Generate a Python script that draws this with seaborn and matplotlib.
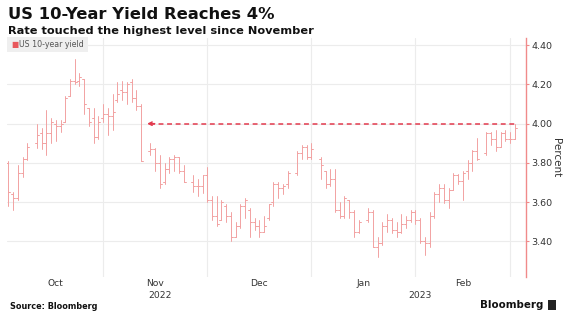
import numpy as np
import pandas as pd
import matplotlib
matplotlib.use("Agg")
import matplotlib.pyplot as plt
import seaborn as sns

# Daily US 10-year Treasury yield, open/high/low/close (percent)
dates = [
    "2022-10-03", "2022-10-04", "2022-10-05", "2022-10-06", "2022-10-07",
    "2022-10-11", "2022-10-12", "2022-10-13", "2022-10-14", "2022-10-17",
    "2022-10-18", "2022-10-19", "2022-10-20", "2022-10-21", "2022-10-24",
    "2022-10-25", "2022-10-26", "2022-10-27", "2022-10-28", "2022-10-31",
    "2022-11-01", "2022-11-02", "2022-11-03", "2022-11-04", "2022-11-07",
    "2022-11-08", "2022-11-09", "2022-11-10", "2022-11-14", "2022-11-15",
    "2022-11-16", "2022-11-17", "2022-11-18", "2022-11-21", "2022-11-22",
    "2022-11-23", "2022-11-25", "2022-11-28", "2022-11-29", "2022-11-30",
    "2022-12-01", "2022-12-02", "2022-12-05", "2022-12-06", "2022-12-07",
    "2022-12-08", "2022-12-09", "2022-12-12", "2022-12-13", "2022-12-14",
    "2022-12-15", "2022-12-16", "2022-12-19", "2022-12-20", "2022-12-21",
    "2022-12-22", "2022-12-23", "2022-12-27", "2022-12-28", "2022-12-29",
    "2022-12-30", "2023-01-03", "2023-01-04", "2023-01-05", "2023-01-06",
    "2023-01-09", "2023-01-10", "2023-01-11", "2023-01-12", "2023-01-13",
    "2023-01-17", "2023-01-18", "2023-01-19", "2023-01-20", "2023-01-23",
    "2023-01-24", "2023-01-25", "2023-01-26", "2023-01-27", "2023-01-30",
    "2023-01-31", "2023-02-01", "2023-02-02", "2023-02-03", "2023-02-06",
    "2023-02-07", "2023-02-08", "2023-02-09", "2023-02-10", "2023-02-13",
    "2023-02-14", "2023-02-15", "2023-02-16", "2023-02-17", "2023-02-21",
    "2023-02-22", "2023-02-23", "2023-02-24", "2023-02-27", "2023-02-28",
    "2023-03-01",
]
open_ = [
    3.80, 3.64, 3.62, 3.75, 3.82, 3.90, 3.95, 3.90, 3.95, 4.00,
    3.99, 4.01, 4.14, 4.22, 4.22, 4.23, 4.08, 4.03, 3.93, 4.03,
    4.05, 4.04, 4.12, 4.17, 4.16, 4.21, 4.13, 4.09, 3.86, 3.87,
    3.80, 3.70, 3.77, 3.82, 3.83, 3.76, 3.70, 3.68, 3.68, 3.74,
    3.61, 3.53, 3.51, 3.58, 3.53, 3.42, 3.48, 3.58, 3.56, 3.50,
    3.48, 3.45, 3.52, 3.60, 3.69, 3.67, 3.69, 3.75, 3.85, 3.88,
    3.83, 3.82, 3.76, 3.69, 3.72, 3.56, 3.53, 3.61, 3.55, 3.45,
    3.51, 3.55, 3.37, 3.39, 3.48, 3.51, 3.46, 3.45, 3.49, 3.51,
    3.55, 3.51, 3.40, 3.39, 3.53, 3.64, 3.67, 3.61, 3.66, 3.74,
    3.71, 3.76, 3.80, 3.86, 3.85, 3.95, 3.92, 3.88, 3.95, 3.92,
    3.92,
]
high = [
    3.81, 3.65, 3.79, 3.83, 3.90, 4.00, 3.98, 4.07, 4.03, 4.02,
    4.02, 4.14, 4.23, 4.33, 4.26, 4.23, 4.08, 4.08, 4.04, 4.10,
    4.08, 4.15, 4.21, 4.22, 4.21, 4.23, 4.17, 4.10, 3.90, 3.875,
    3.84, 3.80, 3.83, 3.84, 3.83, 3.79, 3.74, 3.72, 3.74, 3.78,
    3.63, 3.63, 3.61, 3.59, 3.55, 3.50, 3.59, 3.62, 3.57, 3.52,
    3.51, 3.53, 3.59, 3.70, 3.70, 3.69, 3.76, 3.86, 3.89, 3.89,
    3.90, 3.83, 3.76, 3.77, 3.77, 3.60, 3.63, 3.61, 3.56, 3.51,
    3.57, 3.56, 3.42, 3.50, 3.54, 3.52, 3.50, 3.54, 3.53, 3.56,
    3.56, 3.52, 3.42, 3.55, 3.65, 3.69, 3.69, 3.67, 3.75, 3.745,
    3.76, 3.815, 3.865, 3.925, 3.96, 3.96, 3.97, 3.96, 3.97, 3.96,
    4.00,
]
low = [
    3.58, 3.56, 3.61, 3.73, 3.815, 3.875, 3.87, 3.84, 3.90, 3.91,
    3.96, 4.01, 4.14, 4.20, 4.19, 4.05, 3.99, 3.90, 3.92, 4.01,
    3.94, 3.97, 4.11, 4.12, 4.10, 4.11, 4.07, 3.81, 3.84, 3.76,
    3.67, 3.69, 3.75, 3.76, 3.75, 3.70, 3.65, 3.63, 3.645, 3.60,
    3.51, 3.48, 3.51, 3.50, 3.40, 3.42, 3.47, 3.52, 3.42, 3.46,
    3.42, 3.45, 3.51, 3.58, 3.62, 3.64, 3.67, 3.74, 3.82, 3.82,
    3.82, 3.72, 3.67, 3.68, 3.55, 3.52, 3.52, 3.52, 3.42, 3.44,
    3.50, 3.37, 3.32, 3.38, 3.45, 3.44, 3.42, 3.44, 3.47, 3.50,
    3.49, 3.39, 3.33, 3.37, 3.52, 3.60, 3.595, 3.57, 3.66, 3.69,
    3.61, 3.72, 3.76, 3.815, 3.84, 3.89, 3.86, 3.88, 3.91, 3.90,
    3.92,
]
close = [
    3.65, 3.62, 3.75, 3.82, 3.88, 3.94, 3.90, 3.95, 4.01, 3.99,
    4.00, 4.13, 4.22, 4.21, 4.24, 4.10, 4.01, 3.93, 4.01, 4.05,
    4.04, 4.06, 4.15, 4.16, 4.20, 4.13, 4.09, 3.81, 3.87, 3.80,
    3.69, 3.77, 3.82, 3.83, 3.76, 3.70, 3.68, 3.68, 3.74, 3.61,
    3.53, 3.49, 3.60, 3.53, 3.42, 3.48, 3.58, 3.61, 3.50, 3.48,
    3.45, 3.48, 3.59, 3.69, 3.67, 3.68, 3.75, 3.85, 3.88, 3.83,
    3.87, 3.79, 3.69, 3.72, 3.56, 3.53, 3.62, 3.55, 3.45, 3.50,
    3.55, 3.37, 3.39, 3.48, 3.51, 3.46, 3.45, 3.49, 3.51, 3.55,
    3.51, 3.40, 3.39, 3.53, 3.64, 3.67, 3.61, 3.66, 3.74, 3.71,
    3.75, 3.80, 3.86, 3.82, 3.95, 3.92, 3.88, 3.95, 3.92, 3.92,
    3.98,
]

month_labels = ["Oct", "Nov", "Dec", "Jan", "Feb"]
month_label_dates = ["2022-10-17", "2022-11-15", "2022-12-15", "2023-01-16", "2023-02-14"]
month_end_dates = ["2022-10-31", "2022-11-30", "2022-12-30", "2023-01-31", "2023-02-28"]
year_labels = ["2022", "2023"]
year_label_dates = ["2022-11-16", "2023-02-01"]
y_ticks = [3.40, 3.60, 3.80, 4.00, 4.20, 4.40]
level = 4.00
level_from = "2022-11-10"

title = "US 10-Year Yield Reaches 4%"
subtitle = "Rate touched the highest level since November"
series_name = "US 10-year yield"
source = "Source: Bloomberg"

# x axis runs on business days (weekends removed, holidays left as gaps)
origin = np.datetime64(dates[0])


def bday(d):
    return float(np.busday_count(origin, np.datetime64(d)))


xs = np.array([bday(d) for d in dates])
tick_w = 0.42

rows = []
seg = 0
for x, o, h, l, c in zip(xs, open_, high, low, close):
    rows += [(seg, x, l), (seg, x, h)]
    seg += 1
    rows += [(seg, x - tick_w, o), (seg, x, o)]
    seg += 1
    rows += [(seg, x, c), (seg, x + tick_w, c)]
    seg += 1
ohlc = pd.DataFrame(rows, columns=["seg", "x", "yield"])

sns.set_theme(style="white")
plt.rcParams["font.family"] = ["DejaVu Sans"]

BAR = "#f2a2a2"
RED = "#e23a4e"
AXIS = "#f08a8a"
GRID = "#ececec"
TXT = "#333333"

fig = plt.figure(figsize=(5.70, 3.22), dpi=100)
fig.patch.set_facecolor("white")
ax = fig.add_axes([0.0128, 0.1398, 0.9095, 0.7422])
ax.set_facecolor("none")

ax.set_xlim(-0.25, 109.3)
ax.set_ylim(3.218, 4.437)

# grid
for yv in y_ticks:
    ax.axhline(yv, color=GRID, lw=0.8, zorder=0)
for d in month_end_dates:
    ax.axvline(bday(d), color=GRID, lw=0.8, zorder=0)

sns.lineplot(data=ohlc, x="x", y="yield", units="seg", estimator=None,
             sort=False, color=BAR, lw=0.7, ax=ax, legend=False, zorder=3)

# dashed reference to the last time the yield was at this level
x_from = bday(level_from) + 1.3
x_to = xs[-1]
ax.plot([x_from + 0.6, x_to], [level, level], color=RED, lw=1.1,
        dashes=(3.2, 2.4), zorder=4)
ax.annotate("", xy=(x_from, level), xytext=(x_from + 1.6, level),
            arrowprops=dict(arrowstyle="->", color=RED, lw=1.1,
                            mutation_scale=6, shrinkA=0, shrinkB=0),
            zorder=5)

# right axis
for s in ["left", "top", "bottom"]:
    ax.spines[s].set_visible(False)
ax.spines["right"].set_color(AXIS)
ax.spines["right"].set_linewidth(1.0)
ax.yaxis.tick_right()
ax.set_yticks(y_ticks)
ax.set_yticklabels([f"{v:.2f}" for v in y_ticks])
ax.tick_params(axis="y", direction="out", length=2.5, width=0.8, color=AXIS,
               labelsize=6.8, labelcolor=TXT, pad=1.5)
ax.set_xticks([])
ax.set_xlabel("")
ax.set_ylabel("")
ax.text(1.058, 0.5, "Percent", transform=ax.transAxes, rotation=270,
        ha="center", va="center", fontsize=7.5, color=TXT)

# month and year labels
for lab, d in zip(month_labels, month_label_dates):
    ax.text(bday(d), -0.008, lab, transform=ax.get_xaxis_transform(),
            ha="center", va="top", fontsize=6.6, color=TXT)
for lab, d in zip(year_labels, year_label_dates):
    ax.text(bday(d), -0.058, lab, transform=ax.get_xaxis_transform(),
            ha="center", va="top", fontsize=6.6, color=TXT)

# legend chip
fig.patches.append(plt.Rectangle((0.0128, 0.84), 0.142, 0.045,
                                 transform=fig.transFigure, fc="#efefef",
                                 ec="none", zorder=1))
fig.text(0.0195, 0.862, "\u25A0", fontsize=5.5, color="#e8585c",
         ha="left", va="center", zorder=2)
fig.text(0.034, 0.862, series_name, fontsize=5.7, color="#555555",
         ha="left", va="center", zorder=2)

# titles
fig.text(0.014, 0.955, title, fontsize=11.8, fontweight="bold",
         color="#111111", ha="left", va="center")
fig.text(0.014, 0.903, subtitle, fontsize=8.2, fontweight="bold",
         color="#111111", ha="left", va="center")

# footer
fig.text(0.017, 0.047, source, fontsize=5.9, fontweight="bold",
         color="#111111", ha="left", va="center")
fig.text(0.953, 0.053, "Bloomberg", fontsize=7.4, fontweight="bold",
         color="#111111", ha="right", va="center")
fig.patches.append(plt.Rectangle((0.962, 0.038), 0.013, 0.03,
                                 transform=fig.transFigure, fc="#222222",
                                 ec="none"))

fig.savefig("out.png", dpi=100, facecolor="white")
